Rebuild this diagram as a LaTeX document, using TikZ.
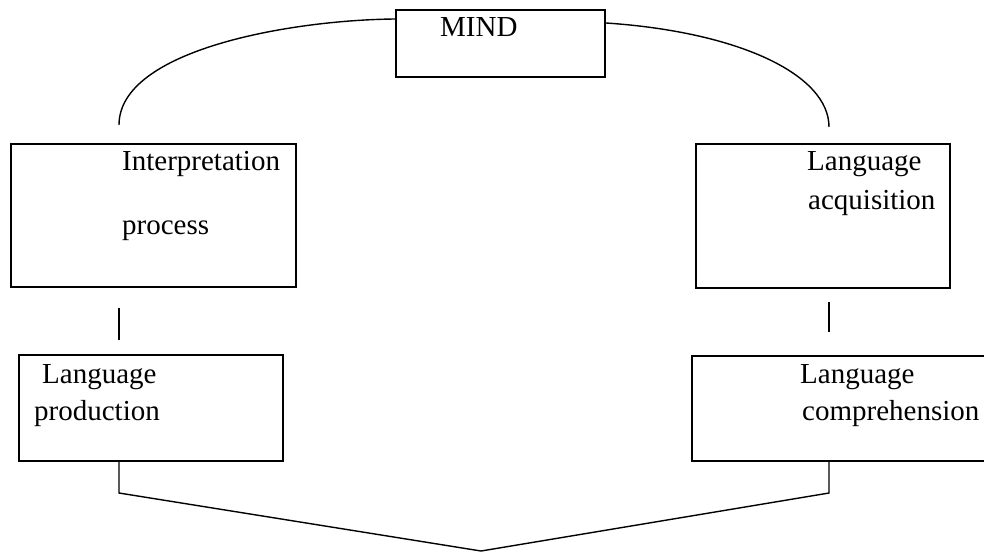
\documentclass[tikz,border=0pt]{standalone}
\usepackage{fontspec}
\setmainfont{Liberation Serif}
\usetikzlibrary{calc}
\tikzset{
  box/.style={draw, line width=2pt, rectangle, inner sep=0pt},
  label/.style={anchor=base west, inner sep=0pt, font=\fontsize{29pt}{34pt}\selectfont},
  link/.style={line width=1.4pt}
}
\begin{document}
\begin{tikzpicture}[x=1pt, y=-1pt]
\useasboundingbox (0,0) rectangle (984,553);

% boxes
\node[box, minimum width=209pt, minimum height=67pt] (mind) at (500.5,43.5) {};
\node[box, minimum width=285pt, minimum height=143pt] (interp) at (153.5,215.5) {};
\node[box, minimum width=254pt, minimum height=144pt] (acq) at (823,216) {};
\node[box, minimum width=264pt, minimum height=106pt] (prod) at (151,408) {};
\node[box, minimum width=294pt, minimum height=105pt] (comp) at (839,408.5) {};

% texts
\node[label] (tmind) at (440,37) {MIND};
\node[label] (tint1) at (122,171) {Interpretation};
\node[label] (tint2) at (122,234) {process};
\node[label] (tacq1) at (807,171) {Language};
\node[label] (tacq2) at (808,210) {acquisition};
\node[label] (tprod1) at (42,383) {Language};
\node[label] (tprod2) at (34,420) {production};
\node[label] (tcomp1) at (800,383) {Language};
\node[label] (tcomp2) at (802,420) {comprehension};

% connector ends
\coordinate (la) at (119,125);
\coordinate (ra) at (829,127);
\coordinate (lt) at (119,308);
\coordinate (lb) at (119,340);
\coordinate (rt) at (829,302);
\coordinate (rb) at (829,332);
\coordinate (lk) at (119,493);
\coordinate (rk) at (829,493);
\coordinate (apex) at (481,551);
\coordinate (lp) at (119,462);
\coordinate (rp) at (829,462);

% arcs to MIND
\draw[link] (la) .. controls (119,50) and (290,20) .. ([yshift=-10pt]mind.north west);
\draw[link] ([yshift=-14pt]mind.north east) .. controls (740,32) and (829,75) .. (ra);

% short vertical strokes
\draw[link] (lt) -- (lb);
\draw[link] (rt) -- (rb);

% bottom joint
\draw[link] (lp) -- (lk) -- (apex) -- (rk) -- (rp);
\end{tikzpicture}
\end{document}
